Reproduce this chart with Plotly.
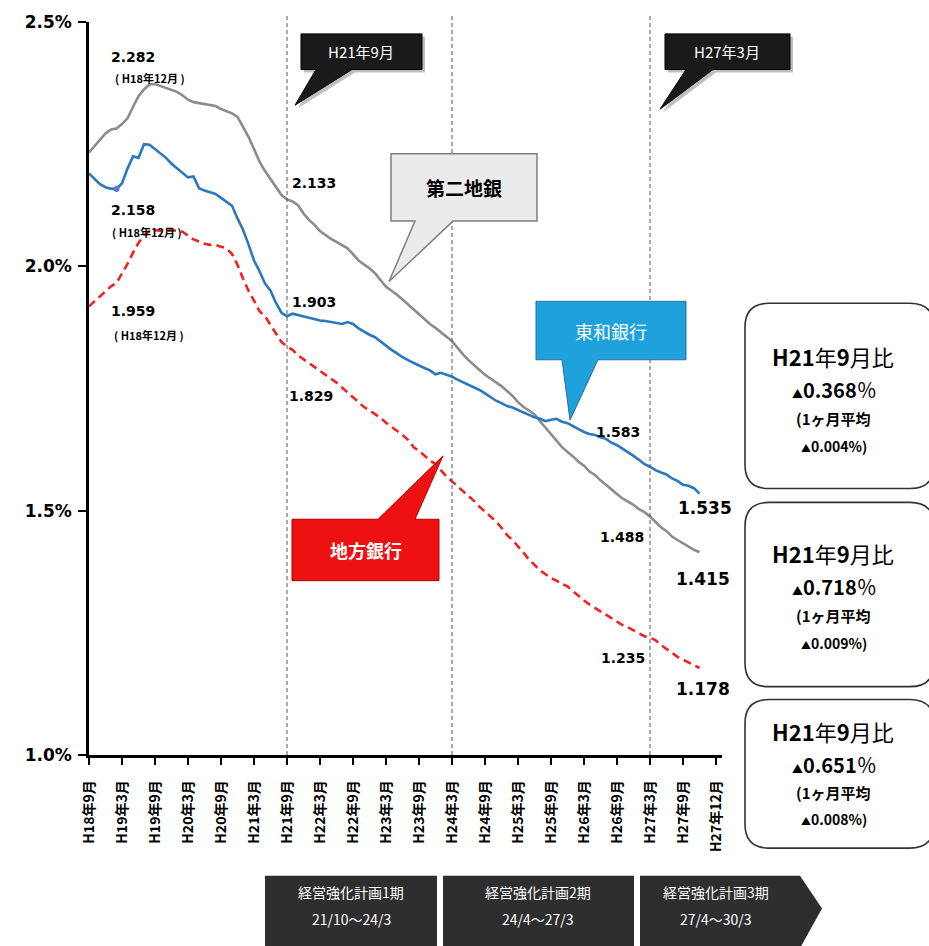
import plotly.graph_objects as go

# ---------------- data (monthly, H18年9月 .. H27年12月) ----------------
second_tier = [  # 第二地銀
    2.233, 2.246, 2.260, 2.272, 2.280, 2.282, 2.291, 2.303, 2.326, 2.348,
    2.362, 2.372, 2.373, 2.369, 2.366, 2.362, 2.357, 2.350, 2.341, 2.336,
    2.334, 2.332, 2.331, 2.328, 2.322, 2.317, 2.313, 2.306, 2.287, 2.265,
    2.240, 2.214, 2.195, 2.178, 2.163, 2.146, 2.137, 2.133, 2.125, 2.108,
    2.095, 2.085, 2.072, 2.064, 2.056, 2.050, 2.044, 2.037, 2.025, 2.012,
    2.004, 1.996, 1.986, 1.972, 1.958, 1.950, 1.942, 1.932, 1.922, 1.912,
    1.900, 1.892, 1.882, 1.874, 1.864, 1.856, 1.847, 1.833, 1.820, 1.808,
    1.797, 1.788, 1.778, 1.770, 1.762, 1.755, 1.745, 1.735, 1.722, 1.712,
    1.705, 1.697, 1.683, 1.670, 1.655, 1.643, 1.630, 1.620, 1.611, 1.600,
    1.592, 1.580, 1.573, 1.562, 1.552, 1.543, 1.534, 1.525, 1.518, 1.512,
    1.503, 1.497, 1.488, 1.477, 1.466, 1.458, 1.447, 1.440, 1.433, 1.427,
    1.420, 1.415,
]
towa = [  # 東和銀行
    2.190, 2.180, 2.168, 2.162, 2.159, 2.158, 2.170, 2.200, 2.225, 2.222,
    2.250, 2.249, 2.240, 2.232, 2.222, 2.210, 2.200, 2.192, 2.182, 2.184,
    2.160, 2.155, 2.152, 2.148, 2.140, 2.132, 2.124, 2.098, 2.075, 2.045,
    2.012, 1.990, 1.965, 1.950, 1.925, 1.905, 1.898, 1.903, 1.900, 1.897,
    1.894, 1.892, 1.889, 1.888, 1.886, 1.884, 1.882, 1.886, 1.882, 1.873,
    1.866, 1.860, 1.855, 1.846, 1.838, 1.829, 1.822, 1.814, 1.808, 1.802,
    1.797, 1.792, 1.787, 1.779, 1.782, 1.778, 1.774, 1.768, 1.763, 1.758,
    1.752, 1.747, 1.740, 1.733, 1.725, 1.720, 1.714, 1.711, 1.706, 1.700,
    1.696, 1.691, 1.688, 1.683, 1.686, 1.688, 1.682, 1.679, 1.673, 1.667,
    1.661, 1.657, 1.655, 1.650, 1.647, 1.639, 1.634, 1.627, 1.620, 1.612,
    1.604, 1.595, 1.590, 1.583, 1.578, 1.574, 1.566, 1.561, 1.553, 1.551,
    1.546, 1.535,
]
regional = [  # 地方銀行
    1.918, 1.928, 1.938, 1.948, 1.959, 1.966, 1.985, 2.005, 2.028, 2.048,
    2.064, 2.072, 2.074, 2.073, 2.072, 2.074, 2.073, 2.071, 2.063, 2.055,
    2.051, 2.046, 2.044, 2.044, 2.040, 2.037, 2.025, 2.003, 1.975, 1.950,
    1.930, 1.908, 1.898, 1.880, 1.862, 1.845, 1.836, 1.829, 1.818, 1.810,
    1.802, 1.793, 1.785, 1.778, 1.770, 1.762, 1.752, 1.742, 1.731, 1.720,
    1.712, 1.705, 1.698, 1.690, 1.680, 1.672, 1.664, 1.655, 1.645, 1.630,
    1.622, 1.612, 1.603, 1.595, 1.582, 1.570, 1.560, 1.550, 1.539, 1.530,
    1.520, 1.508, 1.498, 1.488, 1.478, 1.465, 1.450, 1.440, 1.428, 1.414,
    1.400, 1.388, 1.378, 1.370, 1.362, 1.357, 1.350, 1.345, 1.335, 1.325,
    1.316, 1.308, 1.301, 1.294, 1.287, 1.280, 1.273, 1.266, 1.261, 1.255,
    1.249, 1.243, 1.240, 1.235, 1.225, 1.217, 1.208, 1.201, 1.195, 1.190,
    1.184, 1.178,
]
tick_pos = [0, 6, 12, 18, 24, 30, 36, 42, 48, 54, 60, 66, 72, 78, 84, 90, 96, 102, 108, 114]
tick_text = ["H18年9月", "H19年3月", "H19年9月", "H20年3月", "H20年9月", "H21年3月",
             "H21年9月", "H22年3月", "H22年9月", "H23年3月", "H23年9月", "H24年3月",
             "H24年9月", "H25年3月", "H25年9月", "H26年3月", "H26年9月", "H27年3月",
             "H27年9月", "H27年12月"]
period_lines = [36, 66, 102]          # H21年9月, H24年3月, H27年3月
y_ticks = [1.0, 1.5, 2.0, 2.5]
y_tick_text = ["1.0%", "1.5%", "2.0%", "2.5%"]

x_idx = list(range(len(towa)))

# ---------------- geometry helpers (pixel -> paper) ----------------
W, H = 929, 946
L, R, T, B = 89, 722, 15, 755


def px(x):
    return (x - L) / (R - L)


def py(y):
    return (B - y) / (B - T)


def path(points):
    s = "M " + " L ".join(f"{px(x):.5f},{py(y):.5f}" for x, y in points) + " Z"
    return s


def rounded(x0, y0, x1, y1, r):
    def p(x, y):
        return f"{px(x):.5f},{py(y):.5f}"
    return (f"M {p(x0 + r, y0)} L {p(x1 - r, y0)} Q {p(x1, y0)} {p(x1, y0 + r)} "
            f"L {p(x1, y1 - r)} Q {p(x1, y1)} {p(x1 - r, y1)} L {p(x0 + r, y1)} "
            f"Q {p(x0, y1)} {p(x0, y1 - r)} L {p(x0, y0 + r)} Q {p(x0, y0)} {p(x0 + r, y0)} Z")


fig = go.Figure()

fig.add_trace(go.Scatter(x=x_idx, y=second_tier, mode="lines", name="第二地銀",
                         line=dict(color="#8C8C8C", width=2.6), hoverinfo="skip"))
fig.add_trace(go.Scatter(x=x_idx, y=towa, mode="lines", name="東和銀行",
                         line=dict(color="#2B78BD", width=2.6), hoverinfo="skip"))
fig.add_trace(go.Scatter(x=x_idx, y=regional, mode="lines", name="地方銀行",
                         line=dict(color="#F02222", width=2.6, dash="8px,5px"), hoverinfo="skip"))
fig.add_trace(go.Scatter(x=[x_idx[5]], y=[towa[5]], mode="markers",
                         marker=dict(color="#5A78D0", size=6), hoverinfo="skip"))

shapes = []
# dashed period lines
for p in period_lines:
    shapes.append(dict(type="line", xref="x", yref="paper", x0=p, x1=p, y0=0, y1=py(6),
                       line=dict(color="#555555", width=1, dash="4px,3px"), layer="above"))

# black callouts (top)
for (bx0, by0, bx1, by1, bl, br, tip) in [
        (301, 27, 422, 63, 316, 352, (295, 99)),
        (665, 27, 790, 63, 686, 713, (660, 103))]:
    pts = [(bx0, by0), (bx1, by0), (bx1, by1), (br, by1), tip, (bl, by1), (bx0, by1)]
    shadow = [(x + 3, y + 3) for x, y in pts]
    shapes.append(dict(type="path", xref="paper", yref="paper", path=path(shadow),
                       fillcolor="rgba(0,0,0,0.25)", line=dict(width=0)))
    shapes.append(dict(type="path", xref="paper", yref="paper", path=path(pts),
                       fillcolor="#1A1A1A", line=dict(color="#000000", width=1)))

# 第二地銀 callout
shapes.append(dict(type="path", xref="paper", yref="paper",
                   path=path([(391, 148), (537, 148), (537, 216), (453, 216), (389, 277),
                              (415, 216), (391, 216)]),
                   fillcolor="#EBEBEB", line=dict(color="#7F7F7F", width=1.5)))
# 東和銀行 callout
shapes.append(dict(type="path", xref="paper", yref="paper",
                   path=path([(536, 297), (686, 297), (686, 356), (598, 356), (570, 417),
                              (562, 356), (536, 356)]),
                   fillcolor="#1FA2DC", line=dict(color="#2C6E9C", width=1)))
# 地方銀行 callout
shapes.append(dict(type="path", xref="paper", yref="paper",
                   path=path([(292, 517), (378, 517), (443, 453), (415, 517), (439, 517),
                              (439, 579), (292, 579)]),
                   fillcolor="#EE1111", line=dict(color="#B00000", width=1)))

# right rounded boxes
for (y0, y1) in [(299, 486), (500, 686), (699, 849)]:
    shapes.append(dict(type="path", xref="paper", yref="paper",
                       path=rounded(745, y0, 934, y1, 24),
                       fillcolor="#FFFFFF", line=dict(color="#333333", width=1.6)))

# bottom plan chevrons
shapes.append(dict(type="path", xref="paper", yref="paper",
                   path=path([(265, 877), (437, 877), (437, 950), (265, 950)]),
                   fillcolor="#2E2E2E", line=dict(width=0)))
shapes.append(dict(type="path", xref="paper", yref="paper",
                   path=path([(443, 877), (634, 877), (634, 950), (443, 950)]),
                   fillcolor="#2E2E2E", line=dict(width=0)))
shapes.append(dict(type="path", xref="paper", yref="paper",
                   path=path([(640, 877), (800, 877), (822, 910), (800, 950), (640, 950)]),
                   fillcolor="#2E2E2E", line=dict(width=0)))

annotations = []


def note(x, y, text, size, color="#000000", family="DejaVu Sans", bold=False, xanchor="center"):
    t = f"<b>{text}</b>" if bold else text
    annotations.append(dict(xref="paper", yref="paper", x=px(x), y=py(y), text=t,
                            showarrow=False, xanchor=xanchor, yanchor="middle",
                            font=dict(size=size, color=color, family=family)))


JP = "Noto Sans CJK JP"
# value labels
note(133, 50, "2.282", 14, bold=True)
note(150, 72, "( H18年12月 )", 11, bold=True, family=JP)
note(133, 205, "2.158", 14, bold=True)
note(147, 227, "( H18年12月 )", 11, bold=True, family=JP)
note(133, 307, "1.959", 14, bold=True)
note(149, 331, "( H18年12月 )", 11, bold=True, family=JP)
note(314, 178, "2.133", 14, bold=True)
note(314, 298, "1.903", 14, bold=True)
note(311, 393, "1.829", 14, bold=True)
note(618, 429, "1.583", 14, bold=True)
note(622, 535, "1.488", 14, bold=True)
note(623, 657, "1.235", 14, bold=True)
note(705, 506, "1.535", 17, bold=True)
note(703, 577, "1.415", 17, bold=True)
note(703, 688, "1.178", 17, bold=True)

# callout texts
note(361, 45, "H21年9月", 15, color="#FFFFFF", family=JP)
note(727, 45, "H27年3月", 15, color="#FFFFFF", family=JP)
note(464, 182, "第二地銀", 19, bold=True, family=JP)
note(611, 327, "東和銀行", 18, color="#FFFFFF", family=JP)
note(366, 548, "地方銀行", 18, color="#FFFFFF", bold=True, family=JP)

# right box texts
box_lines = [
    (352, 386, 415, 443, "0.368", "0.004"),
    (551, 585, 614, 642, "0.718", "0.009"),
    (731, 765, 793, 820, "0.651", "0.008"),
]
for (y_a, y_b, y_c, y_d, diff, avg) in box_lines:
    note(833, y_a, "<b>H21</b>年<b>9</b>月比", 22, family=JP)
    note(834, y_b, "<span style='font-size:11px'>▲</span><b>" + diff + "</b>％", 20, family=JP)
    note(833, y_c, "(1ヶ月平均", 15, bold=True, family=JP)
    note(834, y_d, "<span style='font-size:10px'>▲</span>" + avg + "%)", 14, bold=True, family=JP)

# bottom chevron texts
note(351, 893, "経営強化計画1期", 14, color="#FFFFFF", family=JP)
note(351, 921, "21/10～24/3", 14, color="#FFFFFF", family=JP)
note(538, 893, "経営強化計画2期", 14, color="#FFFFFF", family=JP)
note(538, 921, "24/4～27/3", 14, color="#FFFFFF", family=JP)
note(716, 893, "経営強化計画3期", 14, color="#FFFFFF", family=JP)
note(716, 921, "27/4～30/3", 14, color="#FFFFFF", family=JP)

fig.update_layout(
    width=W, height=H,
    margin=dict(l=L, r=W - R, t=T, b=H - B, pad=0),
    paper_bgcolor="#FFFFFF", plot_bgcolor="#FFFFFF",
    showlegend=False,
    shapes=shapes,
    annotations=annotations,
    xaxis=dict(range=[0, (R - L) / 5.5], tickmode="array", tickvals=tick_pos,
               ticktext=tick_text, tickangle=-90, showgrid=False, zeroline=False,
               showline=True, linecolor="#000000", linewidth=2.5,
               ticks="outside", ticklen=7, tickwidth=2, tickcolor="#000000",
               tickfont=dict(family=JP, size=14, color="#000000", weight="bold"),
               ticklabelstandoff=10, fixedrange=True),
    yaxis=dict(range=[1.0, 2.5], tickmode="array", tickvals=y_ticks, ticktext=y_tick_text,
               showgrid=False, zeroline=False, showline=True, linecolor="#000000",
               linewidth=2.5, ticks="outside", ticklen=8, tickwidth=2, tickcolor="#000000",
               tickfont=dict(family="DejaVu Sans", size=17, color="#000000", weight="bold"),
               ticklabelstandoff=3, fixedrange=True),
)

fig.write_html("out.html")
